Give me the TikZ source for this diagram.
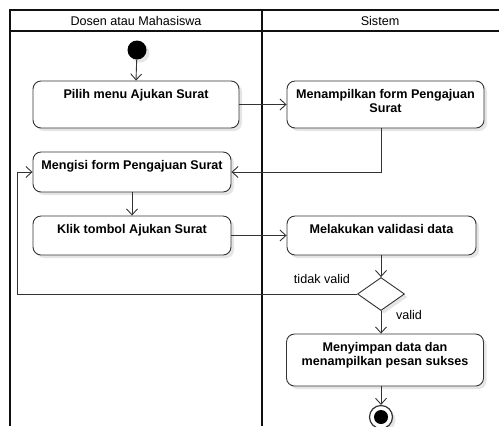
\documentclass[tikz,border=0pt]{standalone}
\usepackage{fontspec}
\setmainfont{Liberation Sans}
\usetikzlibrary{arrows.meta,shapes.geometric,shadows,calc}
\definecolor{ink}{HTML}{333333}
\definecolor{lane}{HTML}{111111}
\tikzset{
  shade/.style={drop shadow={shadow xshift=3bp, shadow yshift=-3bp, fill=black, opacity=0.10}},
  act/.style={draw=ink, line width=0.9bp, rounded corners=8bp, fill=white,
    inner sep=0pt, shade},
  acttext/.style={anchor=north, inner sep=0pt, yshift=-8.3bp, align=center,
    font=\fontsize{12.6bp}{14bp}\selectfont\bfseries},
  plain/.style={inner sep=0pt, font=\fontsize{12.6bp}{14bp}\selectfont},
  flow/.style={draw=ink, line width=0.9bp, -{Straight Barb[length=6bp,width=11bp,line width=0.9bp]}},
  laneline/.style={draw=lane, line width=2bp},
}
\begin{document}
\begin{tikzpicture}[x=1bp,y=-1bp]
\useasboundingbox (0,0) rectangle (499,426);

% swimlanes
\draw[laneline] (10,10) -- (499,10);
\draw[laneline] (10,31) -- (499,31);
\draw[laneline] (10,9) -- (10,426);
\draw[laneline, line width=2.8bp] (262,9) -- (262,426);
\node[plain] (hdA) at (136,20.5) {Dosen atau Mahasiswa};
\node[plain] (hdB) at (380,20.5) {Sistem};

% start
\node[circle, fill=black, minimum size=19bp, inner sep=0pt, shade] (start) at (137,50) {};

% actions
\node[act, minimum width=206bp, minimum height=47bp,
  label={[acttext]north:Pilih menu Ajukan Surat}] (b1) at (136,104.5) {};
\node[act, minimum width=197bp, minimum height=47bp,
  label={[acttext]north:Menampilkan form Pengajuan\\Surat}] (b2) at (385.5,104.5) {};
\node[act, minimum width=198bp, minimum height=40bp,
  label={[acttext]north:Mengisi form Pengajuan Surat}] (b3) at (132,172) {};
\node[act, minimum width=198bp, minimum height=39bp,
  label={[acttext]north:Klik tombol Ajukan Surat}] (b4) at (132,235.5) {};
\node[act, minimum width=189bp, minimum height=39bp,
  label={[acttext]north:Melakukan validasi data}] (b5) at (381.5,235.5) {};
\node[diamond, draw=ink, line width=0.9bp, fill=white, inner sep=0pt,
  minimum width=47bp, minimum height=33bp, shade] (dia) at (381,294) {};
\node[act, minimum width=197bp, minimum height=52bp,
  label={[acttext]north:Menyimpan data dan\\menampilkan pesan sukses}] (b6) at (385,360) {};

% end
\node[circle, draw=ink, line width=1.2bp, fill=white, minimum size=23bp, inner sep=0pt, shade] (fin) at (381,417) {};
\node[circle, fill=black, minimum size=14bp, inner sep=0pt] (finc) at (fin.center) {};

% guard labels
\node[plain] (lbNo) at (322,279) {tidak valid};
\node[plain] (lbYes) at (409,315) {valid};

% flows
\coordinate (loop) at (17,294);
\draw[flow] (start) -- (b1.north);
\draw[flow] (b1.east) -- (b1.east -| b2.west);
\draw[flow] (dia.north |- b2.south) |- (b3.east);
\draw[flow] (b3.south) -- (b4.north);
\draw[flow] (b4.east) -- (b4.east -| b5.west);
\draw[flow] (dia.north |- b5.south) -- (dia.north);
\draw[draw=ink, line width=0.9bp] (dia.west) -- (loop);
\draw[flow] (loop) |- (b3.west);
\draw[flow] (dia.south) -- (dia.south |- b6.north);
\draw[flow] (dia.south |- b6.south) -- (fin.north);
\end{tikzpicture}
\end{document}
